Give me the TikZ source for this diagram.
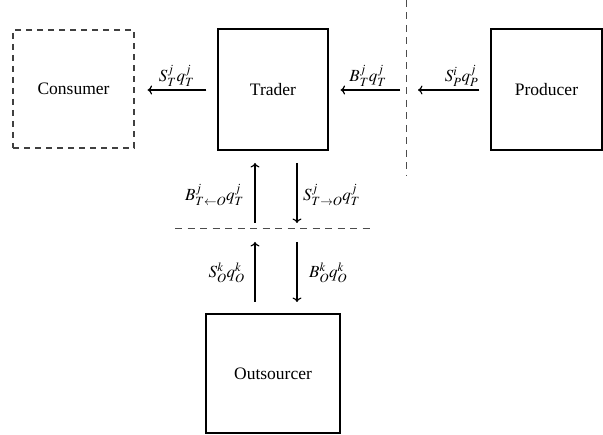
\documentclass[tikz,border=0pt]{standalone}
\usepackage{mathptmx}
\usepackage[no-math]{fontspec}
\setmainfont{Liberation Serif}
\usetikzlibrary{arrows.meta}
\begin{document}
\begin{tikzpicture}[x=1pt,y=-1pt,
  box/.style={draw,line width=1.2pt,inner sep=0pt,font=\fontsize{17.5}{20}\selectfont},
  dbox/.style={box,draw=black!75,dash pattern=on 6pt off 5pt},
  flow/.style={line width=1.2pt,-{To[length=4.5pt,width=9pt]}},
  lbl/.style={font=\fontsize{17}{19}\selectfont,inner sep=0pt},
  sep/.style={draw=black!70,line width=1pt,dash pattern=on 7pt off 5.5pt}]
\useasboundingbox (0,0) rectangle (603,435);
\node[dbox,minimum width=121pt,minimum height=118pt] (con) at (73.5,89) {Consumer};
\node[box,minimum width=110pt,minimum height=121pt] (tra) at (273,89.5) {Trader};
\node[box,minimum width=111pt,minimum height=121pt] (pro) at (546.5,89.5) {Producer};
\node[box,minimum width=134pt,minimum height=119pt] (out) at (273,373.5) {Outsourcer};
\coordinate (vtop) at (406,0);
\coordinate (vbot) at (406,176);
\coordinate (vmid) at (406,90);
\coordinate (hl) at (175,229);
\coordinate (hr) at (370,229);
\draw[sep] (vtop) -- (vbot);
\draw[sep] (hl) -- (hr);
% horizontal flows
\draw[flow] ([xshift=-11pt]tra.west |- 0,90) -- ([xshift=13pt]con.east |- 0,90);
\draw[flow] ([xshift=-11pt]pro.west |- 0,90) -- ([xshift=12pt]vmid);
\draw[flow] ([xshift=-6pt]vmid) -- ([xshift=12pt]tra.east |- 0,90);
% vertical flows
\draw[flow] (255,223) -- (255,163);
\draw[flow] (297,163) -- (297,223);
\draw[flow] (255,302) -- (255,242);
\draw[flow] (297,242) -- (297,302);
% labels
\node[lbl,anchor=south] (l1) at (176.5,87) {$S^j_T q^j_T$};
\node[lbl,anchor=south] (l2) at (368,87) {$B^j_T q^j_T$};
\node[lbl,anchor=south] (l3) at (461.5,87) {$S^i_P q^j_P$};
\node[lbl,anchor=east] (l4) at (244,195) {$B^j_{T\leftarrow O} q^j_T$};
\node[lbl,anchor=west] (l5) at (303,195) {$S^j_{T\rightarrow O} q^j_T$};
\node[lbl,anchor=east] (l6) at (245,273) {$S^k_O q^k_O$};
\node[lbl,anchor=west] (l7) at (309,273) {$B^k_O q^k_O$};
\end{tikzpicture}
\end{document}
